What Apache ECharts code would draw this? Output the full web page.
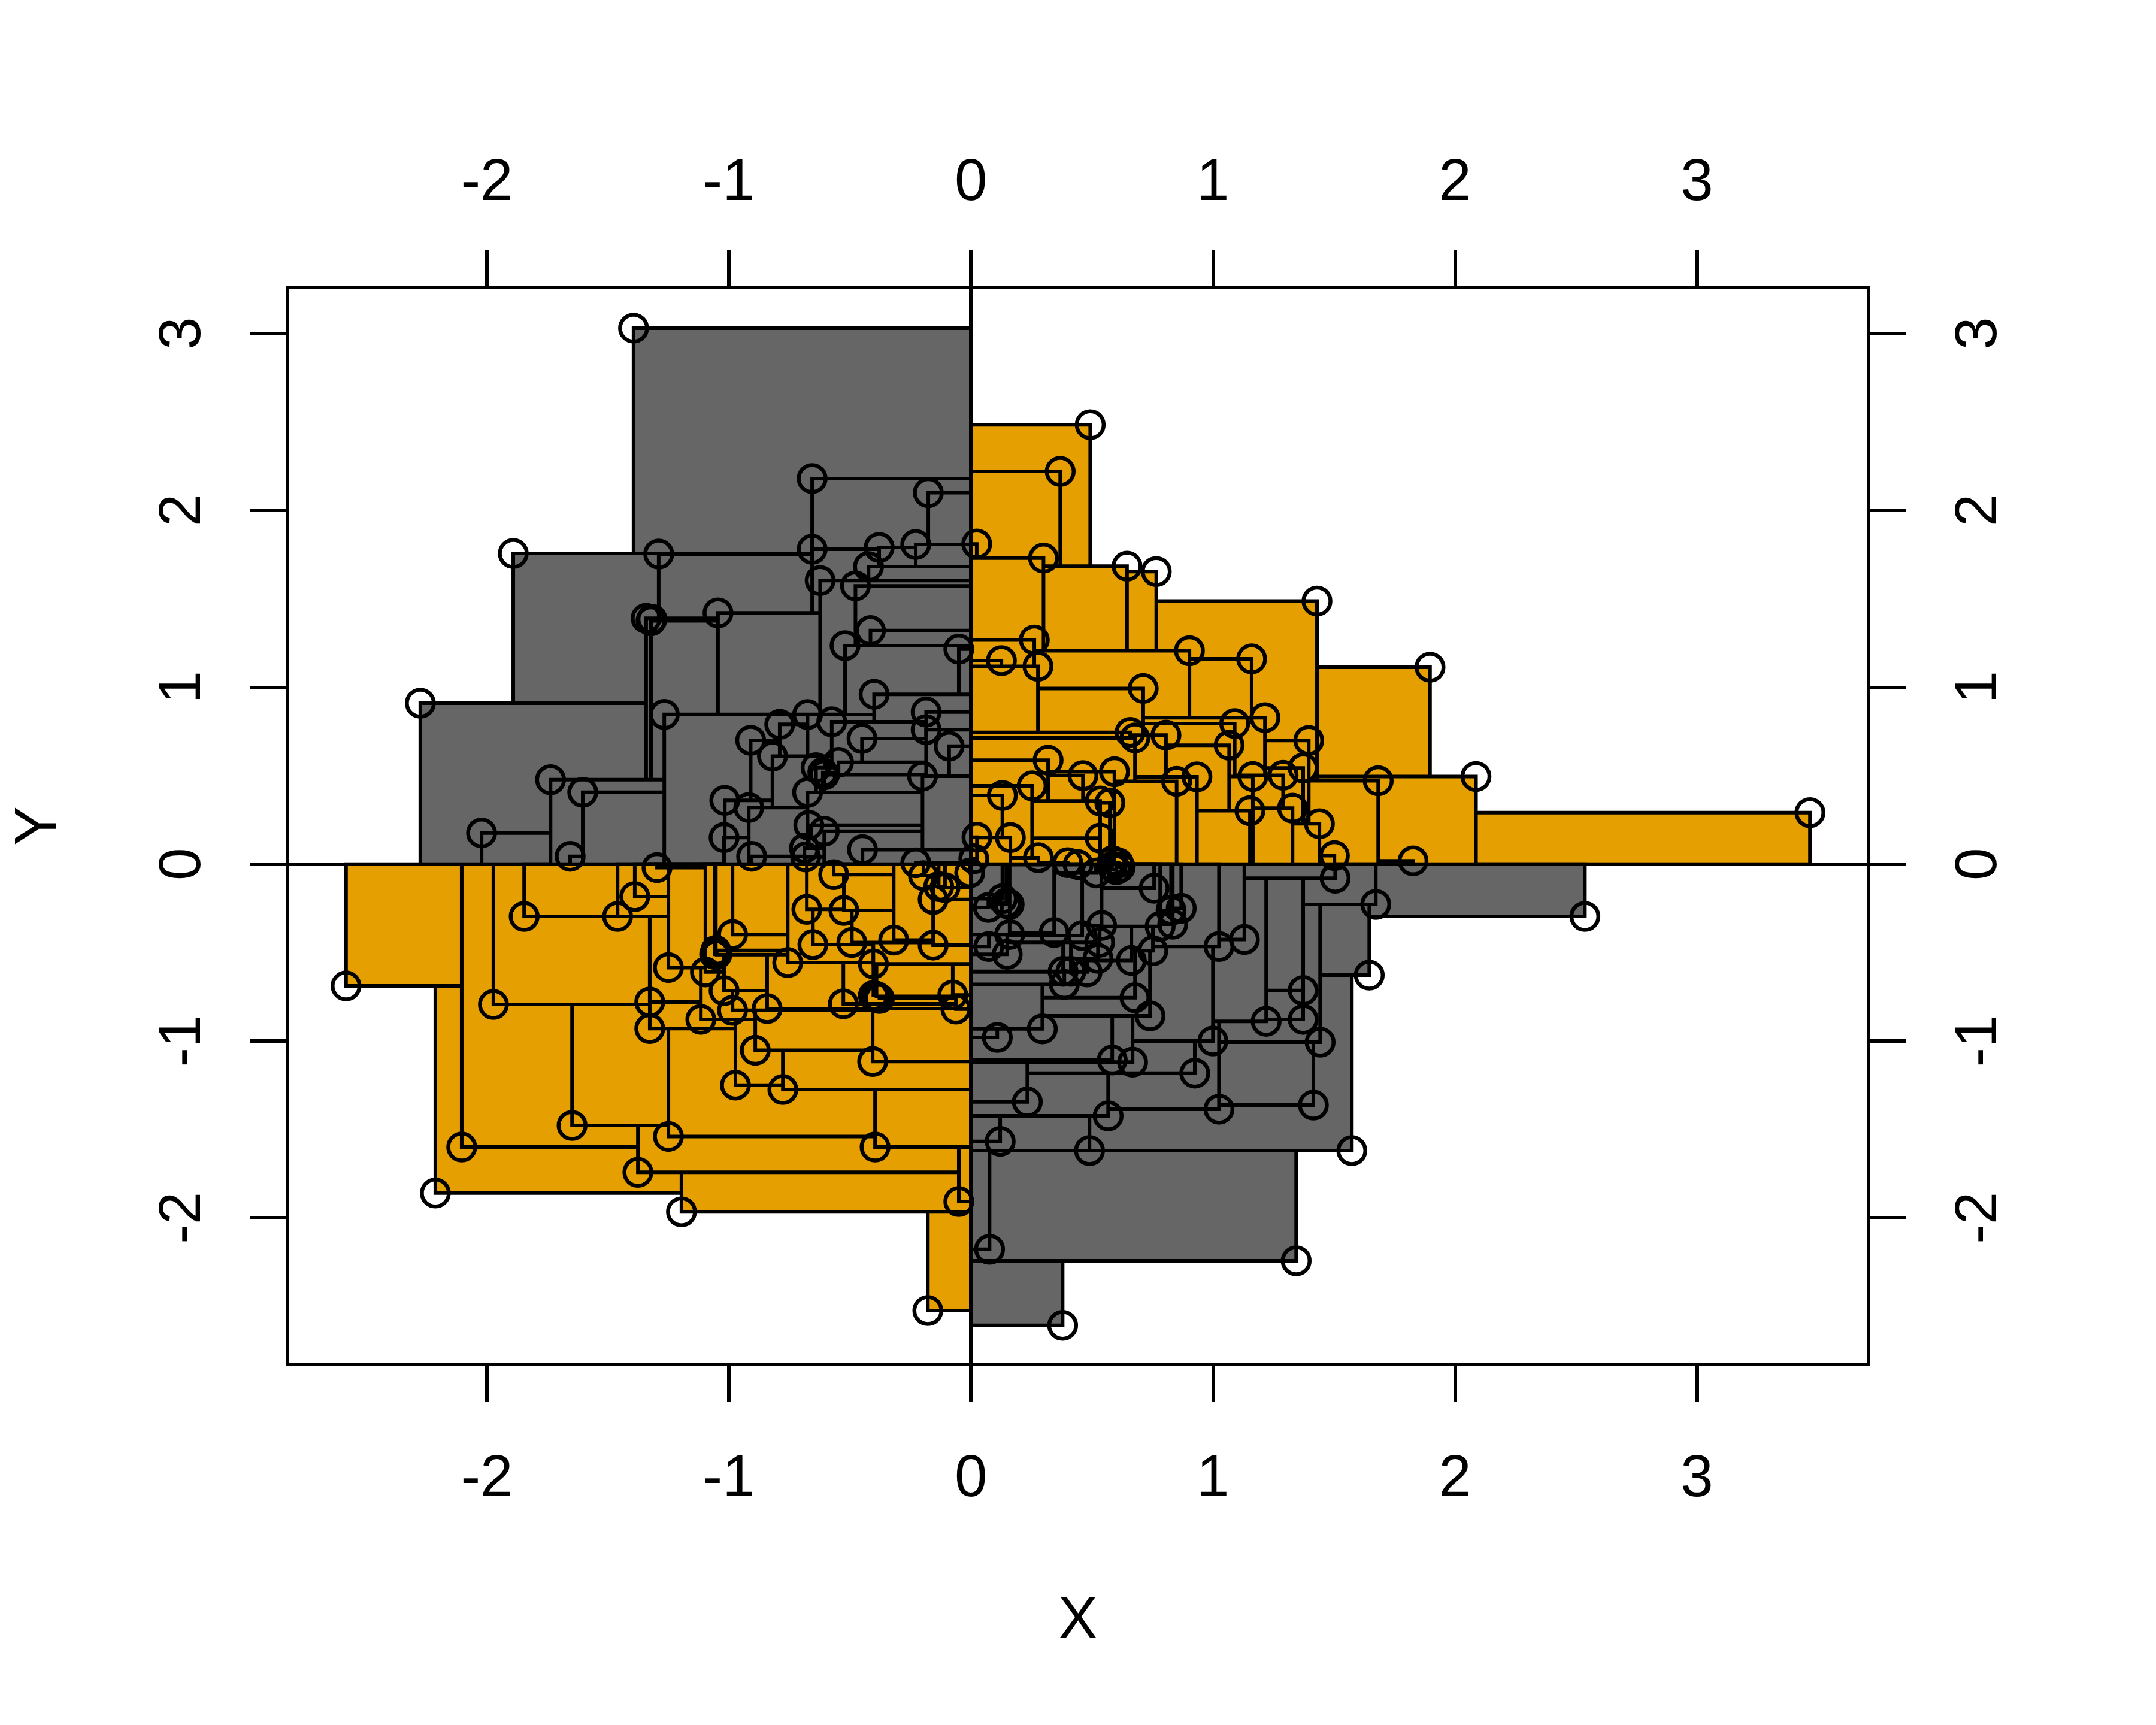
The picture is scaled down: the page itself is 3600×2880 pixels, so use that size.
<!DOCTYPE html>
<html>
<head>
<meta charset="utf-8">
<style>html,body{margin:0;padding:0;background:#fff}#chart{width:3600px;height:2880px}</style>
<script src="https://cdn.jsdelivr.net/npm/echarts@6/dist/echarts.min.js"></script>
</head>
<body>
<div id="chart"></div>
<script>
const upperRight = [
[.493,2.484],[.369,2.22],[.024,1.81],[.30,1.73],[.645,1.684],[.766,1.654],[1.43,1.487],[1.897,1.113],
[.903,1.206],[1.16,1.16],[.262,1.267],[.126,1.15],[.277,1.118],[.712,.993],[.658,.745],[.678,.713],
[.806,.729],[1.09,.795],[1.067,.672],[1.215,.828],[.319,.587],[.463,.50],[.593,.522],[.253,.442],
[.13,.388],[.534,.357],[.574,.346],[.85,.468],[.934,.493],[1.165,.495],[1.153,.302],[.534,.147],
[.025,.152],[.163,.15],[.279,.036],[.40,.008],[.012,.03],[1.396,.699],[1.373,.543],[2.087,.495],
[1.683,.471],[1.29,.502],[1.329,.316],[1.44,.228],[1.502,.048],[1.827,.018],[3.467,.291],[.585,.02],[.61,.006]
];
const upperLeft = [
[-1.394,3.03],[-.656,2.18],[-.176,2.10],[-1.891,1.756],[-1.29,1.753],[-.656,1.78],[-.379,1.79],[-.228,1.807],
[-.423,1.682],[-.623,1.603],[-.477,1.573],[-1.342,1.39],[-1.318,1.385],[-1.322,1.375],[-1.045,1.42],[-.415,1.32],
[-.52,1.235],[-.05,1.215],[-.40,.96],[-2.275,.91],[-1.267,.846],[-.185,.86],[-.185,.76],[-.675,.845],
[-.79,.79],[-.575,.805],[-.91,.70],[-.82,.61],[-.45,.71],[-.09,.667],[-.547,.575],[-.64,.545],
[-.605,.505],[-.612,.518],[-.20,.497],[-1.737,.477],[-1.604,.406],[-.675,.405],[-1.017,.36],[-.918,.32],
[-.67,.22],[-.606,.186],[-2.022,.176],[-1.02,.15],[-.688,.09],[-.683,.04],[-.906,.044],[-.448,.082],
[-1.656,.044],[-.228,.007]
];
const lowerLeft = [
[-2.582,-.689],[-1.846,-.296],[-1.46,-.296],[-1.389,-.184],[-1.297,-.02],[-1.25,-.585],[-1.973,-.794],[-1.327,-.78],
[-1.327,-.93],[-.567,-.06],[-.678,-.256],[-.525,-.262],[-.653,-.455],[-.492,-.443],[-.319,-.43],[-.156,-.458],
[-.403,-.564],[-.985,-.398],[-1.054,-.488],[-1.059,-.51],[-1.05,-.512],[-1.097,-.61],[-.757,-.557],[-1.02,-.716],
[-.985,-.827],[-.842,-.817],[-.527,-.79],[-1.116,-.878],[-.403,-.743],[-.39,-.748],[-.378,-.76],[-.075,-.74],
[-.062,-.82],[-.891,-1.053],[-.406,-1.116],[-.973,-1.25],[-.777,-1.275],[-1.648,-1.478],[-1.25,-1.54],[-.396,-1.60],
[-2.104,-1.60],[-1.376,-1.743],[-2.213,-1.86],[-1.196,-1.966],[-.05,-1.908],[-.178,-2.524],[-.196,-.066],[-.133,-.127],
[-.107,-.133],[-.156,-.2],[-.005,-.05]
];
const lowerRight = [
[.757,-.137],[.869,-.25],[.827,-.262],[.834,-.34],[.782,-.353],[.54,-.347],[.752,-.49],[.663,-.545],
[1.025,-.466],[1.13,-.426],[.344,-.387],[.46,-.404],[.532,-.442],[.525,-.533],[.48,-.61],[.386,-.68],
[.381,-.607],[.413,-.607],[.678,-.756],[.74,-.858],[.295,-.932],[.109,-.98],[1.0,-1.0],[.584,-1.108],
[.668,-1.12],[.072,-.245],[.13,-.196],[.146,-.22],[.158,-.228],[.16,-.398],[.074,-.466],
[.15,-.51],[.517,-.05],[1.505,-.08],[1.673,-.228],[2.537,-.296],[1.646,-.628],[1.373,-.715],[1.373,-.878],
[1.22,-.889],[1.443,-1.007],[.925,-1.182],[.233,-1.345],[.567,-1.424],[1.025,-1.386],[1.415,-1.363],[.121,-1.568],
[.49,-1.62],[1.574,-1.62],[.077,-2.178],[1.344,-2.243],[.379,-2.608],[.443,-.003],[.583,-.014],[.617,-.018],
[.6,-.032]
];
const xTicks = [-2,-1,0,1,2,3];
const yTicks = [-2,-1,0,1,2,3];
const xRange = [-2.824,3.709];
const yRange = [-2.829,3.26];
const sameSignColor = '#E69F00';
const oppositeSignColor = '#666666';

const points = upperRight.concat(upperLeft, lowerLeft, lowerRight)
  .slice().sort((a,b)=>(b[0]*b[0]+b[1]*b[1])-(a[0]*a[0]+a[1]*a[1]));

const LW = 6, FS = 98;
const font = '"Liberation Sans", Arial, sans-serif';
function xAxis(pos){
  return {type:'value',position:pos,min:xRange[0],max:xRange[1],scale:true,
    axisLine:{show:false,onZero:false},splitLine:{show:false},
    axisTick:{show:true,customValues:xTicks,length:62,inside:false,lineStyle:{color:'#000',width:LW}},
    axisLabel:{show:true,customValues:xTicks,margin:pos==='bottom'?144:124,fontSize:FS,fontFamily:font,color:'#000',hideOverlap:false,showMinLabel:true,showMaxLabel:true},
    name:pos==='bottom'?'X':'',nameLocation:'middle',nameGap:381,
    nameTextStyle:{fontSize:FS,fontFamily:font,color:'#000'}};
}
function yAxis(pos){
  return {type:'value',position:pos,min:yRange[0],max:yRange[1],scale:true,
    axisLine:{show:false,onZero:false},splitLine:{show:false},
    axisTick:{show:true,customValues:yTicks,length:62,inside:false,lineStyle:{color:'#000',width:LW}},
    axisLabel:{show:true,customValues:yTicks,margin:pos==='left'?124:137,rotate:90,fontSize:FS,fontFamily:font,color:'#000',hideOverlap:false,showMinLabel:true,showMaxLabel:true},
    name:pos==='left'?'Y':'',nameLocation:'middle',nameGap:365,nameRotate:90,
    nameTextStyle:{fontSize:FS,fontFamily:font,color:'#000'}};
}
const chart = echarts.init(document.getElementById('chart'),null,{renderer:'canvas'});
chart.setOption({
  animation:false,
  backgroundColor:'#fff',
  grid:{left:480,right:480,top:480,bottom:602,show:true,borderColor:'#000',borderWidth:LW,backgroundColor:'transparent',containLabel:false},
  xAxis:[xAxis('bottom'),xAxis('top')],
  yAxis:[yAxis('left'),yAxis('right')],
  series:[
    {type:'custom',coordinateSystem:'cartesian2d',xAxisIndex:0,yAxisIndex:0,clip:false,silent:true,z:2,
     data:points,encode:{x:0,y:1},
     renderItem(params,api){
       const xv=api.value(0), yv=api.value(1);
       const p=api.coord([xv,yv]), o=api.coord([0,0]);
       return {type:'rect',
         shape:{x:Math.min(p[0],o[0]),y:Math.min(p[1],o[1]),width:Math.abs(p[0]-o[0]),height:Math.abs(p[1]-o[1])},
         style:{fill:xv*yv>0?sameSignColor:oppositeSignColor,stroke:'#000',lineWidth:LW,lineJoin:'miter'}};
     }},
    {type:'scatter',xAxisIndex:0,yAxisIndex:0,data:points,symbol:'circle',symbolSize:45,silent:true,z:4,clip:false,
     large:false,itemStyle:{color:'rgba(0,0,0,0)',borderColor:'#000',borderWidth:6.5,opacity:1},
     markLine:{silent:true,symbol:'none',animation:false,label:{show:false},
       lineStyle:{color:'#000',width:LW,type:'solid'},data:[{xAxis:0},{yAxis:0}]}}
  ]
});
</script>
</body>
</html>
